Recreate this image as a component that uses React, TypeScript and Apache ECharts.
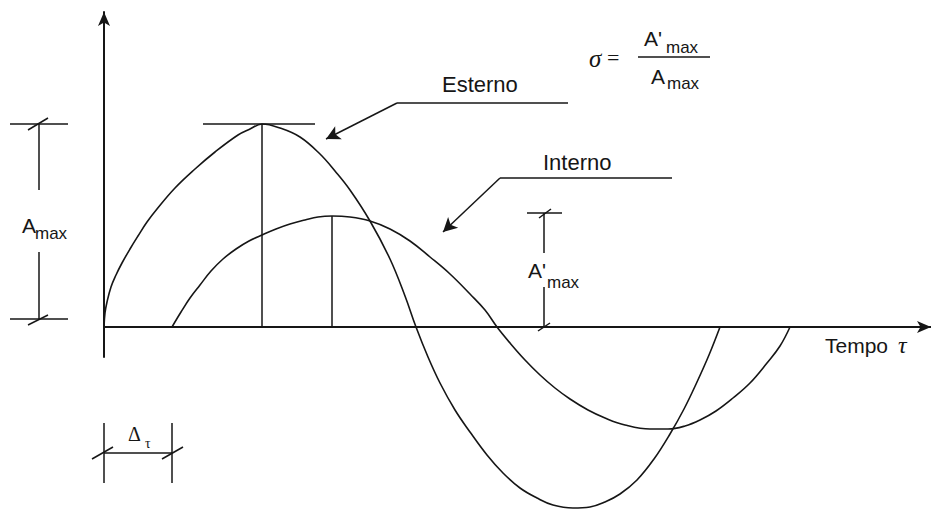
import React, { useEffect, useRef } from "react";
import * as echarts from "echarts";

// Curves: [time, amplitude]
const esterno: [number, number][] = [
  [0, 0], [1, 14], [3, 25], [7, 40], [12, 52], [18, 64], [26, 78], [34, 91], [43, 105],
  [53, 118], [71, 139], [91, 158], [111, 175], [134, 192], [146, 198], [158, 203],
  [176, 199], [196, 190], [216, 173], [231, 156], [246, 137], [266, 106], [286, 68],
  [301, 31], [312, 0], [324, -30], [336, -56], [351, -83], [366, -105], [383, -128],
  [399, -146], [416, -161], [433, -171], [449, -178], [469, -181], [486, -180],
  [501, -175], [516, -167], [533, -153], [550, -132], [566, -107], [580, -82],
  [593, -55], [605, -28], [616, 0],
];
const interno: [number, number][] = [
  [68, 0], [77, 15], [86, 29], [96, 42], [107, 56], [119, 68], [132, 78], [145, 86],
  [158, 92], [172, 98], [186, 103], [201, 107], [214, 110], [228, 111], [246, 110],
  [266, 106], [286, 98], [306, 86], [326, 70], [346, 53], [366, 33], [381, 17],
  [393, 0], [406, -16], [421, -33], [436, -48], [451, -61], [466, -72], [484, -83],
  [501, -91], [521, -98], [546, -102], [564, -102], [581, -99], [596, -93], [612, -84],
  [629, -71], [646, -56], [663, -36], [676, -19], [686, 0],
];

const peakE: [number, number] = [158, 203];
const peakI: [number, number] = [228, 111];
const delayT = 68;

const INK = "#161616";

type Pt = [number, number];
type Seg = [Pt, Pt];
// annotation segments inside the axis range
const segments: Seg[] = [
  [[peakE[0], 0], peakE],
  [[99, peakE[1]], [211, peakE[1]]],
  [[peakI[0], 0], peakI],
  // A'max dimension
  [[423, 114], [458, 114]],
  [[440, 114], [440, 74]],
  [[440, 40], [440, 0]],
  [[435, 109], [447, 118]],
  [[434, -4], [446, 4]],
  // delta tau
  [[0, -96], [0, -156]],
  [[delayT, -96], [delayT, -156]],
  [[0, -126], [delayT, -126]],
  [[delayT - 10, -132], [delayT + 11, -120]],
  // leader lines
  [[293, 224], [464, 224]],
  [[396, 149], [568, 149]],
];
// A_max dimension, left of the vertical axis
const leftSegments: Seg[] = [
  [[-94, 203], [-36, 203]],
  [[-94, 8], [-36, 8]],
  [[-65, 203], [-65, 137]],
  [[-65, 75], [-65, 8]],
  [[-76, 197], [-56, 209]],
  [[-76, 2], [-56, 12]],
  [[-12, -132], [9, -120]],
];
const arrows: Seg[] = [
  [[293, 224], [222, 188]],
  [[396, 149], [339, 95]],
];

export default function App() {
  const ref = useRef<HTMLDivElement>(null);
  useEffect(() => {
    if (!ref.current) return;
    const chart = echarts.init(ref.current, undefined, { renderer: "svg" });
    const sans = "Liberation Sans, Arial, sans-serif";
    const serif = "Liberation Serif, Times New Roman, serif";
    const txt = (text: string, x: number, y: number, size: number, family = sans, italic = false) => ({
      type: "text",
      x,
      y,
      style: {
        text,
        font: `${italic ? "italic " : ""}${size}px ${family}`,
        fill: INK,
        textAlign: "left",
        textVerticalAlign: "middle",
      },
    });
    const curve = (name: string, data: Pt[], extra: any = {}) => ({
      name,
      type: "line",
      data,
      smooth: 0.4,
      showSymbol: false,
      clip: false,
      silent: true,
      lineStyle: { color: INK, width: 1.6 },
      ...extra,
    });
    const segSeries = segments.map((s, i) => ({
      name: "seg" + i,
      type: "line",
      data: s,
      showSymbol: false,
      clip: false,
      silent: true,
      lineStyle: { color: INK, width: 1.5 },
    }));
    const texts: any[] = [
      txt("Esterno", 442, 84, 22),
      txt("Interno", 543, 162, 22),
      txt("Tempo", 825, 345, 21),
      txt("τ", 898, 345, 24, serif, true),
      txt("A", 22, 225, 21),
      txt("max", 35, 233, 17),
      txt("A'", 528, 270, 21),
      txt("max", 547, 282, 17),
      txt("σ", 589, 58, 25, serif, true),
      txt("=", 607, 57, 22, serif),
      txt("A'", 644, 38, 21),
      txt("max", 666, 47, 17),
      txt("A", 651, 76, 21),
      txt("max", 667, 83, 17),
      txt("Δ", 128, 434, 20, serif),
      txt("τ", 145, 443, 14, serif),
      {
        type: "line",
        shape: { x1: 638, y1: 57, x2: 710, y2: 57 },
        style: { stroke: INK, lineWidth: 1.5 },
      },
    ];
    chart.setOption({
      animation: false,
      backgroundColor: "#ffffff",
      grid: { left: 104, right: 0, top: 12, bottom: 153 },
      xAxis: {
        type: "value",
        min: 0,
        max: 827,
        axisLine: {
          show: true,
          onZero: true,
          symbol: ["none", "arrow"],
          symbolSize: [9, 14],
          lineStyle: { color: INK, width: 2 },
        },
        axisTick: { show: false },
        axisLabel: { show: false },
        splitLine: { show: false },
      },
      yAxis: {
        type: "value",
        min: -30,
        max: 315,
        axisLine: {
          show: true,
          symbol: ["none", "arrow"],
          symbolSize: [9, 14],
          lineStyle: { color: INK, width: 2 },
        },
        axisTick: { show: false },
        axisLabel: { show: false },
        splitLine: { show: false },
      },
      series: [
        curve("Esterno", esterno),
        curve("Interno", interno, {
          markLine: {
            silent: true,
            symbol: ["none", "arrow"],
            symbolSize: [11, 14],
            label: { show: false },
            lineStyle: { color: INK, width: 1.5, type: "solid" },
            emphasis: { disabled: true },
            data: arrows.map(([a, b]) => [{ coord: a }, { coord: b }]),
          },
        }),
        ...segSeries,
      ],
      graphic: texts,
    });
    // segments outside the axis range: positioned through the chart's own scales
    const toPx = (p: Pt) => chart.convertToPixel({ gridIndex: 0 }, p) as number[];
    const extraLines = leftSegments.map(([a, b]) => {
      const pa = toPx(a);
      const pb = toPx(b);
      return {
        type: "line",
        shape: { x1: pa[0], y1: pa[1], x2: pb[0], y2: pb[1] },
        style: { stroke: INK, lineWidth: 1.5 },
      };
    });
    chart.setOption({ graphic: [...texts, ...extraLines] });
    return () => chart.dispose();
  }, []);
  return (
    <div
      ref={ref}
      style={{ position: "absolute", left: 0, top: 0, width: 931, height: 510, background: "#fff" }}
    />
  );
}
